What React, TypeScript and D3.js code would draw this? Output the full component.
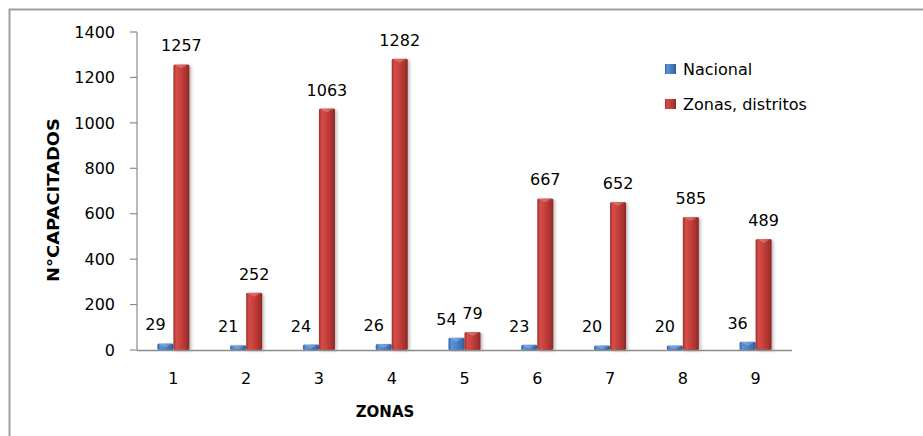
import { useEffect, useRef } from 'react'
import * as d3 from 'd3'

const zonas = ['1', '2', '3', '4', '5', '6', '7', '8', '9']
const nacional = [29, 21, 24, 26, 54, 23, 20, 20, 36]
const distritos = [1257, 252, 1063, 1282, 79, 667, 652, 585, 489]
const yTicks = [0, 200, 400, 600, 800, 1000, 1200, 1400]
const seriesNames = ['Nacional', 'Zonas, distritos']

const W = 923
const H = 436
const FONT = '"DejaVu Sans", sans-serif'

const App = () => {
  const svgRef = useRef<SVGSVGElement | null>(null)

  useEffect(() => {
    const svg = d3.select(svgRef.current)
    svg.selectAll('*').remove()

    const margin = { top: 32, left: 137, right: 131, bottom: 86 }
    const x = d3
      .scaleBand()
      .domain(zonas)
      .range([margin.left, W - margin.right])
    const y = d3
      .scaleLinear()
      .domain([0, 1400])
      .range([H - margin.bottom, margin.top])
    const barW = 16

    const defs = svg.append('defs')
    // gradientes tipo cilindro de excel
    const mkGrad = (id: string, stops: [number, string][]) => {
      const g = defs
        .append('linearGradient')
        .attr('id', id)
        .attr('x1', '0%')
        .attr('x2', '100%')
        .attr('y1', '0%')
        .attr('y2', '0%')
      stops.forEach(([o, c]) => g.append('stop').attr('offset', o + '%').attr('stop-color', c))
    }
    mkGrad('gBlue', [
      [0, '#2f609f'],
      [18, '#5a93d6'],
      [45, '#4f86c8'],
      [85, '#3a6cad'],
      [100, '#2c5890'],
    ])
    mkGrad('gRed', [
      [0, '#9c2e2b'],
      [18, '#d54d49'],
      [45, '#c9413d'],
      [85, '#a5302d'],
      [100, '#872523'],
    ])
    const f = defs
      .append('filter')
      .attr('id', 'sh')
      .attr('x', '-30%')
      .attr('y', '-10%')
      .attr('width', '160%')
      .attr('height', '120%')
    f.append('feDropShadow')
      .attr('dx', 2)
      .attr('dy', 1)
      .attr('stdDeviation', 1.5)
      .attr('flood-color', '#000')
      .attr('flood-opacity', 0.25)

    // borde del grafico
    svg
      .append('path')
      .attr('d', `M9.5,${H} V9.5 H${W}`)
      .attr('fill', 'none')
      .attr('stroke', '#a0a0a0')
      .attr('stroke-width', 2)

    // eje y
    const yAxis = svg.append('g')
    yAxis
      .append('line')
      .attr('x1', margin.left)
      .attr('x2', margin.left)
      .attr('y1', y(1400))
      .attr('y2', y(0))
      .attr('stroke', '#8c8c8c')
      .attr('stroke-width', 1.2)
    yAxis
      .selectAll('line.tick')
      .data(yTicks)
      .enter()
      .append('line')
      .attr('class', 'tick')
      .attr('x1', margin.left - 7)
      .attr('x2', margin.left)
      .attr('y1', (d) => y(d))
      .attr('y2', (d) => y(d))
      .attr('stroke', '#8c8c8c')
      .attr('stroke-width', 1.2)
    yAxis
      .selectAll('text')
      .data(yTicks)
      .enter()
      .append('text')
      .attr('x', margin.left - 22)
      .attr('y', (d) => y(d))
      .attr('dy', '0.36em')
      .attr('text-anchor', 'end')
      .attr('font-family', FONT)
      .attr('font-size', 16)
      .attr('fill', '#000')
      .text((d) => d)

    // barras
    const groups = svg
      .selectAll('g.zona')
      .data(zonas)
      .enter()
      .append('g')
      .attr('class', 'zona')

    const drawBar = (vals: number[], off: number, fill: string) => {
      groups
        .append('rect')
        .attr('x', (d) => (x(d) as number) + x.bandwidth() / 2 + off)
        .attr('y', (_d, i) => y(vals[i]))
        .attr('width', barW)
        .attr('height', (_d, i) => y(0) - y(vals[i]))
        .attr('rx', 1.5)
        .attr('fill', fill)
        .attr('filter', 'url(#sh)')
      // brillo superior
      groups
        .append('path')
        .attr('d', (d, i) => {
          const x0 = (x(d) as number) + x.bandwidth() / 2 + off
          const t = y(vals[i])
          const h = Math.min(4, y(0) - t)
          return `M${x0 + 1},${t} H${x0 + barW - 1} L${x0 + barW / 2},${t + h} Z`
        })
        .attr('fill', '#fff')
        .attr('opacity', 0.22)
    }
    drawBar(nacional, -barW, 'url(#gBlue)')
    drawBar(distritos, 0, 'url(#gRed)')

    // eje x
    svg
      .append('line')
      .attr('x1', margin.left)
      .attr('x2', W - margin.right)
      .attr('y1', y(0) + 0.5)
      .attr('y2', y(0) + 0.5)
      .attr('stroke', '#8c8c8c')
      .attr('stroke-width', 1.5)

    svg
      .append('g')
      .selectAll('text')
      .data(zonas)
      .enter()
      .append('text')
      .attr('x', (d) => (x(d) as number) + x.bandwidth() / 2)
      .attr('y', y(0) + 34)
      .attr('text-anchor', 'middle')
      .attr('font-family', FONT)
      .attr('font-size', 16)
      .text((d) => d)

    // etiquetas de valores
    groups
      .append('text')
      .attr('x', (d) => (x(d) as number) + x.bandwidth() / 2 - barW / 2 - 10)
      .attr('y', (_d, i) => y(nacional[i]) - 13)
      .attr('text-anchor', 'middle')
      .attr('font-family', FONT)
      .attr('font-size', 16)
      .text((_d, i) => nacional[i])
    groups
      .append('text')
      .attr('x', (d) => (x(d) as number) + x.bandwidth() / 2 + barW / 2)
      .attr('y', (_d, i) => y(distritos[i]) - 13)
      .attr('text-anchor', 'middle')
      .attr('font-family', FONT)
      .attr('font-size', 16)
      .text((_d, i) => distritos[i])

    // titulos
    svg
      .append('text')
      .attr('transform', `translate(59, 200) rotate(-90)`)
      .attr('text-anchor', 'middle')
      .attr('font-family', FONT)
      .attr('font-weight', 'bold')
      .attr('font-size', 15)
      .attr('textLength', 164)
      .attr('lengthAdjust', 'spacingAndGlyphs')
      .text('N°CAPACITADOS')
    svg
      .append('text')
      .attr('x', 385)
      .attr('y', 417)
      .attr('text-anchor', 'middle')
      .attr('font-family', FONT)
      .attr('font-weight', 'bold')
      .attr('font-size', 15)
      .text('ZONAS')

    // leyenda
    const leg = svg
      .selectAll('g.leg')
      .data(seriesNames)
      .enter()
      .append('g')
      .attr('class', 'leg')
      .attr('transform', (_d, i) => `translate(665, ${69 + i * 35})`)
    leg
      .append('rect')
      .attr('x', 0)
      .attr('y', -5)
      .attr('width', 11)
      .attr('height', 10)
      .attr('fill', (_d, i) => (i === 0 ? 'url(#gBlue)' : 'url(#gRed)'))
    leg
      .append('text')
      .attr('x', 18)
      .attr('dy', '0.36em')
      .attr('font-family', FONT)
      .attr('font-size', 16)
      .text((d) => d)
  }, [])

  return (
    <svg
      ref={svgRef}
      width={W}
      height={H}
      style={{ position: 'absolute', left: 0, top: 0, background: '#fff' }}
    ></svg>
  )
}

export default App
